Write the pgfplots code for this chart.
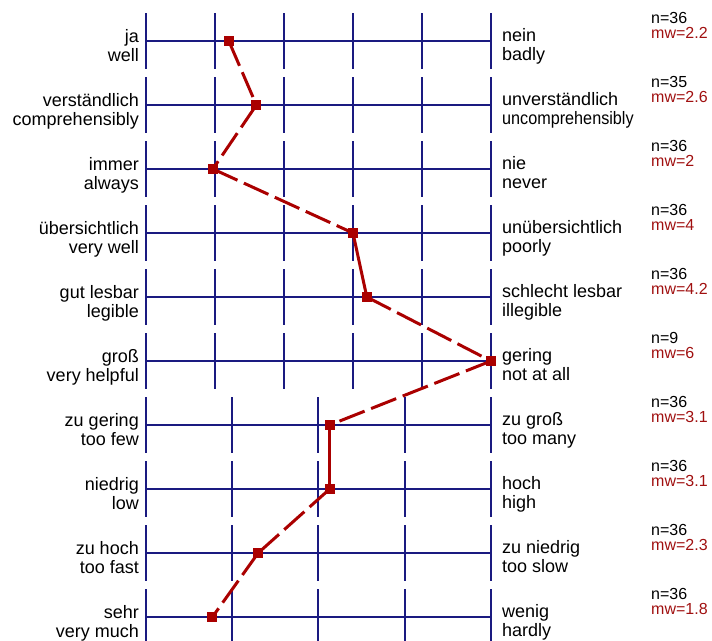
\documentclass[border=0pt]{standalone}
\usepackage{pgfplots}
\pgfplotsset{compat=1.18}
\usepackage{pgfplotstable}
\usepackage{graphicx}
\usepackage{fontspec}
\setmainfont{Liberation Sans}
\definecolor{gridc}{RGB}{26,26,128}
\definecolor{linec}{RGB}{170,0,0}
\definecolor{mwc}{RGB}{160,16,16}

% profile data: row, mean value (mw, as plotted), scale maximum, n
\pgfplotstableread{
row mw smax n
1 2.2 6 36
2 2.6 6 35
3 1.97 6 36
4 4.0 6 36
5 4.2 6 36
6 6.0 6 9
7 3.13 5 36
8 3.13 5 36
9 2.3 5 36
10 1.77 5 36
}\profile

% scale tick positions (normalised 0..1) per row
\pgfplotstableread{
row x
1 0
1 0.2
1 0.4
1 0.6
1 0.8
1 1
2 0
2 0.2
2 0.4
2 0.6
2 0.8
2 1
3 0
3 0.2
3 0.4
3 0.6
3 0.8
3 1
4 0
4 0.2
4 0.4
4 0.6
4 0.8
4 1
5 0
5 0.2
5 0.4
5 0.6
5 0.8
5 1
6 0
6 0.2
6 0.4
6 0.6
6 0.8
6 1
7 0
7 0.25
7 0.4986
7 0.75
7 1
8 0
8 0.25
8 0.4986
8 0.75
8 1
9 0
9 0.25
9 0.4986
9 0.75
9 1
10 0
10 0.25
10 0.4986
10 0.75
10 1
}\vlines

\newcommand\labfont{\fontsize{18bp}{19bp}\selectfont}
\newcommand\nfont{\fontsize{16bp}{16bp}\selectfont}
\newcommand\rowlab[7]{%
  \node[anchor=base east,font=\labfont,inner sep=0pt,yshift=-1bp] at (axis cs:-0.0203,#1) {#2};
  \node[anchor=base east,font=\labfont,inner sep=0pt,yshift=-20bp] at (axis cs:-0.0203,#1) {#3};
  \node[anchor=base west,font=\labfont,inner sep=0pt,yshift=-0.5bp] at (axis cs:1.0319,#1) {#4};
  \node[anchor=base west,font=\labfont,inner sep=0pt,yshift=-19.5bp] at (axis cs:1.0319,#1) {#5};
  \node[anchor=base west,font=\nfont,inner sep=0pt,yshift=18bp] at (axis cs:1.4638,#1) {n=#6};
  \node[anchor=base west,font=\nfont,inner sep=0pt,text=mwc,yshift=2.5bp] at (axis cs:1.4638,#1) {mw=#7};
}
% one segment of the profile line, between rows #1 and #2
\pgfplotsset{
  seg/.style={linec, line width=3bp, mark=none},
  dashedseg/.style={seg, dash pattern=on 27bp off 7bp},
}
\newcommand\seg[3]{%
  \addplot[#3, restrict y to domain=#1:#2]
    table[x expr={(\thisrow{mw}-1)/(\thisrow{smax}-1)}, y=row] \profile;
}

\begin{document}
\begin{tikzpicture}
\begin{axis}[
  name=ax,
  width=712bp, height=641bp, scale only axis,
  xmin=-0.423188, xmax=1.640580,
  ymin=0.359375, ymax=10.375,
  y dir=reverse,
  hide axis,
  clip=true,
]
% horizontal scale lines
\addplot[draw=none, mark=none,
  error bars/.cd, x dir=both, x fixed=0.5, error mark=none,
  error bar style={draw=gridc, line width=1.7bp, solid}]
  table[x expr=0.5, y=row] \profile;
% vertical scale ticks
\addplot[draw=none, mark=none,
  error bars/.cd, y dir=both, y fixed=0.4375, error mark=none,
  error bar style={draw=gridc, line width=1.7bp, solid}]
  table[x=x, y=row] \vlines;
% profile line, segment by segment
\seg{1}{2}{dashedseg}
\seg{2}{3}{dashedseg}
\seg{3}{4}{dashedseg}
\seg{4}{5}{seg}
\seg{5}{6}{dashedseg}
\seg{6}{7}{dashedseg}
\seg{7}{8}{seg}
\seg{8}{9}{dashedseg}
\seg{9}{10}{dashedseg}
% markers
\addplot[only marks, mark=square*, mark size=4.5bp,
  mark options={solid, fill=linec, draw=linec, line width=0pt}]
  table[x expr={(\thisrow{mw}-1)/(\thisrow{smax}-1)}, y=row] \profile;

\rowlab{1}{ja}{well}{nein}{badly}{36}{2.2}
\rowlab{2}{verständlich}{comprehensibly}{unverständlich}{\scalebox{0.9}[1]{uncomprehensibly}}{35}{2.6}
\rowlab{3}{immer}{always}{nie}{never}{36}{2}
\rowlab{4}{übersichtlich}{very well}{unübersichtlich}{poorly}{36}{4}
\rowlab{5}{gut lesbar}{legible}{schlecht lesbar}{illegible}{36}{4.2}
\rowlab{6}{groß}{very helpful}{gering}{not at all}{9}{6}
\rowlab{7}{zu gering}{too few}{zu groß}{too many}{36}{3.1}
\rowlab{8}{niedrig}{low}{hoch}{high}{36}{3.1}
\rowlab{9}{zu hoch}{too fast}{zu niedrig}{too slow}{36}{2.3}
\rowlab{10}{sehr}{very much}{wenig}{hardly}{36}{1.8}
\end{axis}
\pgfresetboundingbox
\path (ax.south west) rectangle (ax.north east);
\end{tikzpicture}
\end{document}
